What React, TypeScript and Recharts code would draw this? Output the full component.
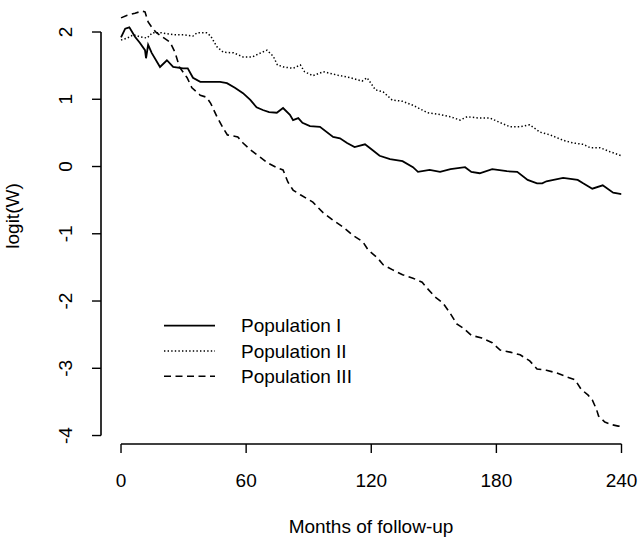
import React from "react";
import { LineChart, Line, XAxis, YAxis, ReferenceLine, Legend } from "recharts";

// ---- data ----
const seriesNames = ["Population I", "Population II", "Population III"];
const xTicks = [0, 60, 120, 180, 240];
const yTicks = [-4, -3, -2, -1, 0, 1, 2];

const monthsI = [0, 2, 4, 6.7, 9, 11.5, 12, 13, 14.7, 18.7, 22, 25, 29.7, 32, 34.5, 38, 42.7, 47.5, 50.8, 54.6, 58.5, 62, 65, 68, 71, 74.7, 77.7, 81, 82.5, 85, 87, 90.6, 95.4, 101.7, 105, 108.4, 112, 117, 120.4, 124, 129, 135, 140, 142.4, 148, 153, 158, 165, 168, 172, 178, 185, 190, 195, 199.5, 202, 204, 212, 219, 221.6, 226, 231, 236, 240];
const valuesI = [1.92, 2.05, 2.07, 1.93, 1.84, 1.73, 1.61, 1.81, 1.69, 1.48, 1.58, 1.48, 1.46, 1.46, 1.32, 1.26, 1.26, 1.26, 1.24, 1.17, 1.09, 0.99, 0.88, 0.84, 0.81, 0.8, 0.87, 0.77, 0.69, 0.72, 0.65, 0.6, 0.59, 0.44, 0.42, 0.35, 0.29, 0.33, 0.25, 0.16, 0.11, 0.08, -0.01, -0.08, -0.05, -0.08, -0.04, -0.01, -0.08, -0.1, -0.04, -0.07, -0.08, -0.2, -0.25, -0.25, -0.22, -0.17, -0.2, -0.25, -0.33, -0.28, -0.39, -0.41];

const monthsII = [0, 3, 6, 9, 12.5, 15, 19, 25, 30, 34.5, 36.5, 41, 43, 46, 49, 54, 58.5, 63, 67, 70, 73, 75, 78, 82.5, 86, 88, 92, 97, 103.6, 110, 115.6, 118, 122, 125.7, 130, 135, 140, 147, 151.6, 158, 162.6, 166, 172, 177, 182, 186.6, 191.4, 196, 201, 205.8, 212, 216.8, 221.6, 225, 229.7, 234.5, 240];
const valuesII = [1.88, 1.91, 1.96, 1.93, 1.91, 1.99, 1.99, 1.96, 1.96, 1.94, 1.99, 1.99, 1.94, 1.78, 1.7, 1.69, 1.63, 1.63, 1.69, 1.73, 1.64, 1.51, 1.48, 1.46, 1.51, 1.41, 1.35, 1.41, 1.36, 1.32, 1.27, 1.32, 1.14, 1.11, 0.99, 0.97, 0.91, 0.8, 0.78, 0.74, 0.69, 0.74, 0.72, 0.72, 0.65, 0.59, 0.59, 0.62, 0.51, 0.47, 0.39, 0.35, 0.33, 0.28, 0.28, 0.22, 0.16];

const monthsIII = [0, 3, 6.7, 10, 11.5, 13, 15, 17, 19.7, 23.5, 26, 28, 31.7, 34, 38, 41, 43, 46, 49, 51, 56, 58.5, 62, 66.7, 70.5, 75, 77.7, 80, 82.5, 86, 92, 97, 101.7, 106.5, 111, 116, 118.5, 123, 125.7, 130.5, 135, 140, 144.4, 146.8, 150.6, 154.4, 157.8, 161, 164, 168, 173, 178, 181.8, 186.6, 191.4, 196, 199.5, 204, 209, 214, 217.7, 220.6, 224, 226, 228, 229, 232, 235.5, 238.4, 240];
const valuesIII = [2.21, 2.25, 2.28, 2.31, 2.3, 2.15, 2.06, 1.99, 1.93, 1.85, 1.69, 1.48, 1.32, 1.17, 1.06, 1.03, 0.94, 0.74, 0.57, 0.47, 0.44, 0.35, 0.25, 0.14, 0.05, -0.02, -0.05, -0.23, -0.35, -0.42, -0.53, -0.69, -0.8, -0.9, -1.02, -1.12, -1.24, -1.36, -1.46, -1.54, -1.61, -1.66, -1.72, -1.81, -1.94, -2.03, -2.18, -2.34, -2.4, -2.51, -2.55, -2.62, -2.73, -2.76, -2.8, -2.89, -3.01, -3.03, -3.07, -3.13, -3.17, -3.31, -3.4, -3.47, -3.61, -3.71, -3.8, -3.84, -3.86, -3.86];

const toRows = (ms: number[], vs: number[]) => ms.map((m, i) => ({ m, v: vs[i] }));
const dataI = toRows(monthsI, valuesI);
const dataII = toRows(monthsII, valuesII);
const dataIII = toRows(monthsIII, valuesIII);

// ---- layout / style ----
const FONT = '"Liberation Sans", Arial, Helvetica, sans-serif';
const X_MIN = -9.6;
const X_MAX = 240;
const Y_MIN = -4.126;
const Y_MAX = 2.476;

const styles = [
  { width: 1.8, dash: undefined as string | undefined },
  { width: 1.5, dash: "1.4 2.2" },
  { width: 1.6, dash: "7 4.5" },
];

const XTick = (props: any) => {
  const { x, payload } = props;
  return (
    <text x={x} y={487} textAnchor="middle" fontSize={19} fontFamily={FONT} fill="#000">
      {payload.value}
    </text>
  );
};

const YTick = (props: any) => {
  const { y, payload } = props;
  return (
    <text
      x={72.5}
      y={y}
      textAnchor="middle"
      fontSize={19}
      fontFamily={FONT}
      fill="#000"
      transform={`rotate(-90, 72.5, ${y})`}
    >
      {payload.value}
    </text>
  );
};

const XTitle = () => (
  <text x={371} y={533} textAnchor="middle" fontSize={19} fontFamily={FONT} fill="#000">
    Months of follow-up
  </text>
);

const YTitle = () => (
  <text
    x={19}
    y={216}
    textAnchor="middle"
    fontSize={19}
    fontFamily={FONT}
    fill="#000"
    transform="rotate(-90, 19, 216)"
  >
    logit(W)
  </text>
);

const LegendContent = () => (
  <svg width={260} height={90} style={{ display: "block" }}>
    {seriesNames.map((name, i) => {
      const y = 20.7 + 25.3 * i;
      return (
        <g key={name}>
          <line
            x1={14}
            x2={65}
            y1={y}
            y2={y}
            stroke="#000"
            strokeWidth={styles[i].width}
            strokeDasharray={styles[i].dash}
          />
          <text x={91} y={y + 6.5} fontSize={19} fontFamily={FONT} fill="#000">
            {name}
          </text>
        </g>
      );
    })}
  </svg>
);

export default function App() {
  const datasets = [dataI, dataII, dataIII];
  return (
    <div style={{ position: "absolute", left: 0, top: 0, width: 638, height: 537, background: "#fff" }}>
      <LineChart width={638} height={537} margin={{ top: 0, right: 16.5, bottom: 0, left: 0 }}>
        <XAxis
          type="number"
          dataKey="m"
          domain={[X_MIN, X_MAX]}
          allowDataOverflow
          ticks={xTicks}
          interval={0}
          tickSize={9}
          axisLine={false}
          tickLine={{ stroke: "#000", strokeWidth: 1.4 }}
          tick={XTick}
          height={93}
          label={XTitle}
        />
        <YAxis
          type="number"
          domain={[Y_MIN, Y_MAX]}
          allowDataOverflow
          ticks={yTicks}
          interval={0}
          tickSize={9}
          axisLine={false}
          tickLine={{ stroke: "#000", strokeWidth: 1.4 }}
          tick={YTick}
          width={101}
          label={YTitle}
        />
        <ReferenceLine
          segment={[{ x: X_MIN, y: yTicks[0] }, { x: X_MIN, y: yTicks[yTicks.length - 1] }]}
          stroke="#000"
          strokeWidth={1.6}
          ifOverflow="visible"
        />
        <ReferenceLine
          segment={[{ x: xTicks[0], y: Y_MIN }, { x: xTicks[xTicks.length - 1], y: Y_MIN }]}
          stroke="#000"
          strokeWidth={1.6}
          ifOverflow="visible"
        />
        {datasets.map((d, i) => (
          <Line
            key={seriesNames[i]}
            data={d}
            dataKey="v"
            name={seriesNames[i]}
            type="linear"
            stroke="#000"
            strokeWidth={styles[i].width}
            strokeDasharray={styles[i].dash}
            dot={false}
            activeDot={false}
            isAnimationActive={false}
          />
        ))}
        <Legend
          layout="vertical"
          align="center"
          verticalAlign="middle"
          wrapperStyle={{ left: 150, top: 305, width: 260, height: 90 }}
          content={LegendContent}
        />
      </LineChart>
    </div>
  );
}
